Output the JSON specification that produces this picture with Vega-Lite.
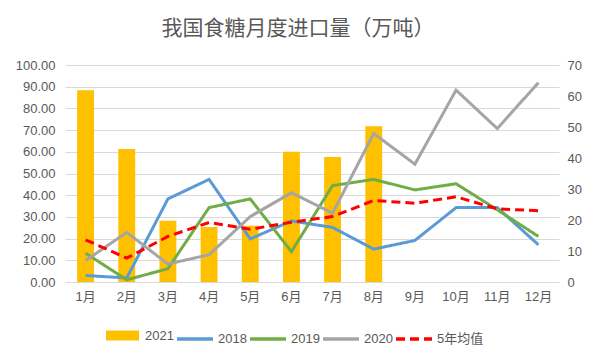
{
  "$schema": "https://vega.github.io/schema/vega-lite/v6.json",
  "width": 494,
  "height": 217,
  "autosize": "none",
  "padding": {"left": 65, "top": 65, "right": 39, "bottom": 80},
  "background": "white",
  "config": {
    "view": {"stroke": null},
    "font": "Liberation Sans, Noto Sans CJK SC",
    "axis": {"labelFont": "Liberation Sans, Noto Sans CJK SC", "labelFontSize": 13, "labelColor": "#595959", "ticks": false, "title": null},
    "legend": {"labelFont": "Liberation Sans, Noto Sans CJK SC", "labelFontSize": 13, "labelColor": "#595959"}
  },
  "title": {
    "text": "我国食糖月度进口量（万吨）",
    "font": "Noto Sans CJK SC",
    "fontSize": 21,
    "fontWeight": "normal",
    "color": "#595959",
    "anchor": "middle",
    "offset": 20,
    "dx": -14
  },
  "data": {
    "values": [
      {"m": "1月", "s": "2021", "v": 88.4},
      {"m": "2月", "s": "2021", "v": 61.3},
      {"m": "3月", "s": "2021", "v": 28.2},
      {"m": "4月", "s": "2021", "v": 25.4},
      {"m": "5月", "s": "2021", "v": 25.9},
      {"m": "6月", "s": "2021", "v": 60.0},
      {"m": "7月", "s": "2021", "v": 57.6},
      {"m": "8月", "s": "2021", "v": 71.8},
      {"m": "1月", "s": "2018", "v": 2.1},
      {"m": "2月", "s": "2018", "v": 1.3},
      {"m": "3月", "s": "2018", "v": 26.8},
      {"m": "4月", "s": "2018", "v": 33.1},
      {"m": "5月", "s": "2018", "v": 13.9},
      {"m": "6月", "s": "2018", "v": 19.7},
      {"m": "7月", "s": "2018", "v": 17.6},
      {"m": "8月", "s": "2018", "v": 10.6},
      {"m": "9月", "s": "2018", "v": 13.4},
      {"m": "10月", "s": "2018", "v": 24.0},
      {"m": "11月", "s": "2018", "v": 24.0},
      {"m": "12月", "s": "2018", "v": 12.0},
      {"m": "1月", "s": "2019", "v": 9.3},
      {"m": "2月", "s": "2019", "v": 0.7},
      {"m": "3月", "s": "2019", "v": 4.3},
      {"m": "4月", "s": "2019", "v": 24.0},
      {"m": "5月", "s": "2019", "v": 26.8},
      {"m": "6月", "s": "2019", "v": 9.8},
      {"m": "7月", "s": "2019", "v": 31.1},
      {"m": "8月", "s": "2019", "v": 33.1},
      {"m": "9月", "s": "2019", "v": 29.7},
      {"m": "10月", "s": "2019", "v": 31.7},
      {"m": "11月", "s": "2019", "v": 23.3},
      {"m": "12月", "s": "2019", "v": 14.7},
      {"m": "1月", "s": "2020", "v": 6.9},
      {"m": "2月", "s": "2020", "v": 16.0},
      {"m": "3月", "s": "2020", "v": 5.8},
      {"m": "4月", "s": "2020", "v": 8.8},
      {"m": "5月", "s": "2020", "v": 21.1},
      {"m": "6月", "s": "2020", "v": 28.8},
      {"m": "7月", "s": "2020", "v": 22.2},
      {"m": "8月", "s": "2020", "v": 47.9},
      {"m": "9月", "s": "2020", "v": 38.0},
      {"m": "10月", "s": "2020", "v": 61.9},
      {"m": "11月", "s": "2020", "v": 49.5},
      {"m": "12月", "s": "2020", "v": 64.3},
      {"m": "1月", "s": "5年均值", "v": 13.6},
      {"m": "2月", "s": "5年均值", "v": 7.7},
      {"m": "3月", "s": "5年均值", "v": 14.7},
      {"m": "4月", "s": "5年均值", "v": 19.2},
      {"m": "5月", "s": "5年均值", "v": 17.0},
      {"m": "6月", "s": "5年均值", "v": 19.3},
      {"m": "7月", "s": "5年均值", "v": 21.1},
      {"m": "8月", "s": "5年均值", "v": 26.3},
      {"m": "9月", "s": "5年均值", "v": 25.4},
      {"m": "10月", "s": "5年均值", "v": 27.5},
      {"m": "11月", "s": "5年均值", "v": 23.6},
      {"m": "12月", "s": "5年均值", "v": 23.0}
    ]
  },
  "encoding": {
    "x": {
      "field": "m",
      "type": "nominal",
      "sort": ["1月","2月","3月","4月","5月","6月","7月","8月","9月","10月","11月","12月"],
      "scale": {"paddingInner": 0.59, "paddingOuter": 0.295},
      "axis": {"labelAngle": 0, "labelPadding": 8, "domain": true, "domainColor": "#d9d9d9", "domainWidth": 1, "title": null}
    }
  },
  "layer": [
    {
      "transform": [{"filter": "datum.s === '2021'"}],
      "mark": {"type": "bar"},
      "encoding": {
        "y": {
          "field": "v",
          "type": "quantitative",
          "scale": {"domain": [0, 100], "nice": false},
          "axis": {"orient": "left", "values": [0,10,20,30,40,50,60,70,80,90,100], "format": ".2f", "grid": true, "gridColor": "#d9d9d9", "domain": false, "labelPadding": 10, "title": null}
        },
        "fill": {
          "field": "s",
          "type": "nominal",
          "scale": {"domain": ["2021"], "range": ["#FFC000"]},
          "legend": {"orient": "none", "legendX": 41, "legendY": 254, "title": null, "symbolType": "M-1,-0.3H1V0.3H-1Z", "symbolSize": 1089, "symbolStrokeWidth": 0, "labelOffset": 6}
        }
      }
    },
    {
      "transform": [{"filter": "datum.s !== '2021'"}],
      "mark": {"type": "line", "strokeWidth": 3},
      "encoding": {
        "y": {
          "field": "v",
          "type": "quantitative",
          "scale": {"domain": [0, 70], "nice": false},
          "axis": {"orient": "right", "values": [0,10,20,30,40,50,60,70], "format": "d", "grid": false, "domain": false, "labelPadding": 8, "title": null}
        },
        "stroke": {
          "field": "s",
          "type": "nominal",
          "scale": {"domain": ["2018","2019","2020","5年均值"], "range": ["#5B9BD5","#70AD47","#A5A5A5","#FF0000"]},
          "legend": {"orient": "none", "direction": "horizontal", "legendX": 110, "legendY": 254, "title": null, "symbolType": "stroke", "symbolSize": 1296, "symbolStrokeWidth": 3.5, "labelOffset": 3, "columnPadding": -4}
        },
        "strokeDash": {
          "field": "s",
          "type": "nominal",
          "scale": {"domain": ["2018","2019","2020","5年均值"], "range": [[1,0],[1,0],[1,0],[9,5]]},
          "legend": {"orient": "none", "direction": "horizontal", "legendX": 110, "legendY": 254, "title": null, "symbolType": "stroke", "symbolSize": 1296, "symbolStrokeWidth": 3.5, "labelOffset": 3, "columnPadding": -4}
        }
      }
    }
  ],
  "resolve": {"scale": {"y": "independent"}}
}
